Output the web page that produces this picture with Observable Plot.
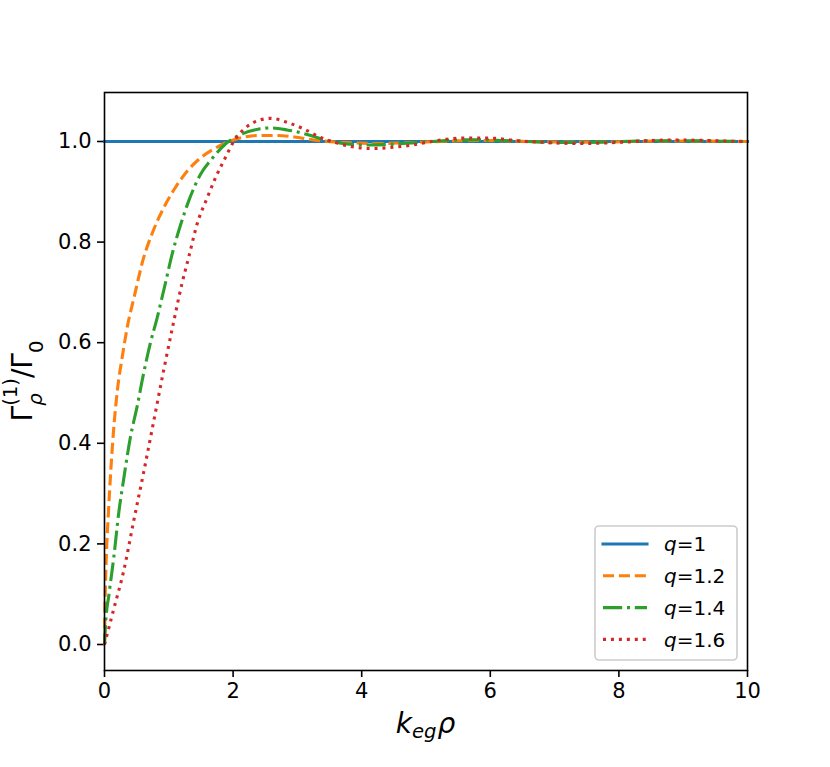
<!DOCTYPE html>
<html>
<head>
<meta charset="utf-8">
<script src="https://cdn.jsdelivr.net/npm/d3@7"></script>
<script src="https://cdn.jsdelivr.net/npm/@observablehq/plot@0.6"></script>
<style>
  body { margin: 0; background: white; }
  svg { display: block; }
</style>
</head>
<body>
<div id="chart"></div>
<script>
// ---- data ----
const xTicks = [0, 2, 4, 6, 8, 10];
const yTicks = [0.0, 0.2, 0.4, 0.6, 0.8, 1.0];
const seriesNames = ["q=1", "q=1.2", "q=1.4", "q=1.6"];

const q10K = [0, 10];
const q10V = [1.0, 1.0];

const q12K = [0, 0.01, 0.03, 0.06, 0.1, 0.15, 0.2, 0.28, 0.36, 0.46, 0.6, 0.75, 0.92, 1.1, 1.3, 1.5, 1.7, 1.9, 2.15, 2.4, 2.65, 2.95, 3.25, 3.6, 3.9, 4.25, 4.6, 5.0, 5.4, 5.8, 6.2, 6.6, 7.0, 7.4, 7.8, 8.2, 8.6, 9.0, 9.4, 9.8, 10];
const q12V = [0, 0.09, 0.18, 0.26, 0.35, 0.44, 0.505, 0.575, 0.635, 0.69, 0.765, 0.82, 0.868, 0.908, 0.943, 0.968, 0.985, 0.998, 1.008, 1.012, 1.012, 1.009, 1.003, 0.999, 0.997, 0.996, 0.997, 0.999, 1.001, 1.002, 1.0015, 1.0, 0.999, 0.9988, 0.999, 1.0, 1.001, 1.001, 1.0008, 1.0, 1.0];

const q14K = [0, 0.016, 0.07, 0.145, 0.22, 0.3, 0.4, 0.51, 0.61, 0.715, 0.82, 0.95, 1.05, 1.18, 1.31, 1.49, 1.7, 1.88, 2.12, 2.37, 2.58, 2.84, 3.15, 3.46, 3.77, 4.08, 4.4, 4.75, 5.1, 5.5, 5.8, 6.2, 6.6, 7.0, 7.4, 7.8, 8.3, 8.8, 9.2, 9.6, 10];
const q14V = [0, 0.04, 0.1, 0.174, 0.26, 0.33, 0.41, 0.475, 0.54, 0.6, 0.65, 0.72, 0.775, 0.833, 0.882, 0.934, 0.97, 0.995, 1.014, 1.024, 1.027, 1.023, 1.014, 1.002, 0.995, 0.993, 0.994, 0.997, 1.0, 1.003, 1.0035, 1.002, 1.0, 0.998, 0.998, 0.999, 1.001, 1.0015, 1.0015, 1.0005, 1.0];

const q16K = [0, 0.145, 0.3, 0.456, 0.61, 0.767, 0.92, 1.08, 1.2, 1.31, 1.44, 1.6, 1.73, 1.88, 2.01, 2.22, 2.43, 2.58, 2.84, 3.1, 3.36, 3.59, 3.88, 4.14, 4.45, 4.79, 5.0, 5.23, 5.43, 5.7, 5.9, 6.11, 6.31, 6.55, 6.75, 7.0, 7.4, 7.8, 8.1, 8.5, 8.9, 9.2, 9.6, 10];
const q16V = [0, 0.071, 0.147, 0.247, 0.343, 0.445, 0.545, 0.644, 0.715, 0.77, 0.836, 0.889, 0.929, 0.968, 1.0, 1.03, 1.043, 1.046, 1.038, 1.025, 1.008, 0.998, 0.989, 0.986, 0.988, 0.993, 0.998, 1.003, 1.006, 1.007, 1.007, 1.006, 1.003, 1.0, 0.999, 0.997, 0.996, 0.997, 0.999, 1.002, 1.003, 1.0025, 1.001, 1.0];

// ---- styles ----
const colors = ["#1f77b4", "#ff7f0e", "#2ca02c", "#d62728"];
const dashes = [null, "11.1 4.8", "19.2 4.8 3 4.8", "3 4.95"];
const LW = 3.1;
const toRows = (ks, vs) => ks.map((k, i) => ({k, v: vs[i]}));
const series = [toRows(q10K, q10V), toRows(q12K, q12V), toRows(q14K, q14V), toRows(q16K, q16V)];

const W = 830, H = 767;
const mL = 104, mR = 83, mT = 92, mB = 97;
const font = "DejaVu Sans";

const lineMarks = series.map((rows, i) => Plot.line(rows, {
  x: "k", y: "v", stroke: colors[i], strokeWidth: LW,
  strokeDasharray: dashes[i] || undefined,
  strokeLinecap: i === 0 ? "square" : "butt",
  curve: "monotone-x"
}));

const chart = Plot.plot({
  width: W, height: H,
  marginLeft: mL, marginRight: mR, marginTop: mT, marginBottom: mB,
  x: {domain: [0, 10]},
  y: {domain: [-0.0517, 1.0974]},
  style: {fontFamily: font, fontSize: "21px", background: "white", color: "black"},
  marks: [
    Plot.axisX({ticks: xTicks, tickSize: 7, tickPadding: 6, label: null, fontSize: 21, strokeWidth: 1.6, tickFormat: d3.format("d")}),
    Plot.axisY({ticks: yTicks, tickSize: 7, tickPadding: 6, label: null, fontSize: 21, strokeWidth: 1.6, tickFormat: d3.format(".1f")}),
    ...lineMarks,
    Plot.frame({stroke: "black", strokeWidth: 1.6})
  ]
});

document.getElementById("chart").appendChild(chart);
const svg = d3.select(chart);
svg.selectAll("g[aria-label='x-axis tick label'], g[aria-label='y-axis tick label']")
  .attr("font-size", 21).attr("font-family", font);

// ---- x label: k_{eg} rho ----
const cx = mL + (W - mL - mR) / 2;
const xl = svg.append("text")
  .attr("x", cx).attr("y", 733)
  .attr("text-anchor", "middle")
  .attr("font-family", font).attr("font-size", 28).attr("font-style", "italic")
  .attr("fill", "black");
xl.append("tspan").text("k");
xl.append("tspan").attr("font-size", 19.6).attr("dy", 5).text("eg");
xl.append("tspan").attr("dy", -5).attr("dx", 1).text("ρ");

// ---- y label: Gamma_rho^(1) / Gamma_0 ----
const cy = mT + (H - mT - mB) / 2;
const yl = svg.append("text")
  .attr("transform", `translate(32,${cy}) rotate(-90)`)
  .attr("text-anchor", "middle")
  .attr("font-family", font).attr("font-size", 28)
  .attr("fill", "black");
yl.append("tspan").text("Γ");
const rhoSpan = yl.append("tspan").attr("font-size", 19.6).attr("font-style", "italic").attr("dy", 10).text("ρ");
const rhoW = rhoSpan.node().getComputedTextLength();
yl.append("tspan").attr("font-size", 19.6).attr("dx", -rhoW).attr("dy", -25).text("(1)");
yl.append("tspan").attr("dy", 15).text("/Γ");
yl.append("tspan").attr("font-size", 19.6).attr("dy", 11).text("0");

// ---- legend ----
const right = W - mR, bottom = H - mB;
const lgW = 142, lgH = 134;
const lgX = right - 10 - lgW, lgY = bottom - 10 - lgH;
const lg = svg.append("g");
lg.append("rect")
  .attr("x", lgX).attr("y", lgY).attr("width", lgW).attr("height", lgH)
  .attr("rx", 4).attr("fill", "white").attr("fill-opacity", 0.8)
  .attr("stroke", "#cccccc").attr("stroke-width", 1.6);
seriesNames.forEach((name, i) => {
  const yy = lgY + 18 + i * 31.8;
  lg.append("line")
    .attr("x1", lgX + 8).attr("x2", lgX + 52).attr("y1", yy).attr("y2", yy)
    .attr("stroke", colors[i]).attr("stroke-width", LW)
    .attr("stroke-dasharray", dashes[i])
    .attr("stroke-linecap", i === 0 ? "square" : "butt");
  const t = lg.append("text")
    .attr("x", lgX + 69).attr("y", yy).attr("dy", "0.36em")
    .attr("text-anchor", "start")
    .attr("font-family", font).attr("font-size", 20).attr("fill", "black");
  const parts = name.split("=");
  t.append("tspan").attr("font-style", "italic").text(parts[0]);
  t.append("tspan").text("=" + parts[1]);
});
</script>
</body>
</html>
